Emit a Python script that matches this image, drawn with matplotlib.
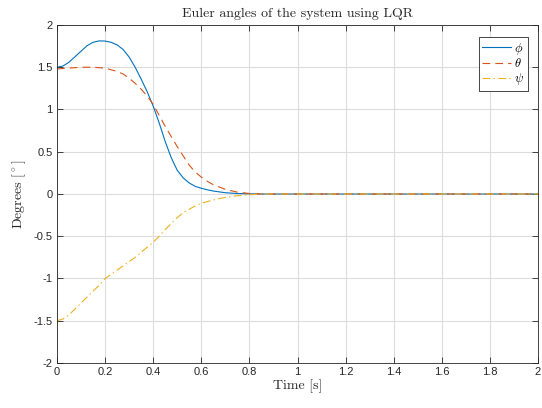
import matplotlib
matplotlib.use("Agg")
import matplotlib.pyplot as plt

plt.rcParams['mathtext.fontset'] = 'cm'
plt.rcParams['font.family'] = ['Liberation Sans', 'DejaVu Sans']

t_phi = [0, 0.025, 0.05, 0.075, 0.1, 0.125, 0.15, 0.175, 0.2, 0.225, 0.25, 0.275,
         0.3, 0.325, 0.35, 0.375, 0.4, 0.425, 0.45, 0.475, 0.5, 0.525, 0.55, 0.575,
         0.6, 0.625, 0.65, 0.7, 0.75, 0.8, 0.85, 2.0]
phi = [1.50, 1.515, 1.56, 1.625, 1.69, 1.755, 1.795, 1.812, 1.81, 1.795, 1.765, 1.71,
       1.62, 1.50, 1.36, 1.21, 1.04, 0.84, 0.62, 0.43, 0.28, 0.19, 0.13, 0.09,
       0.068, 0.05, 0.035, 0.015, 0.006, 0.002, 0.0, 0.0]

t_theta = [0, 0.025, 0.05, 0.1, 0.15, 0.175, 0.2, 0.225, 0.25, 0.275, 0.3, 0.325,
           0.35, 0.375, 0.4, 0.425, 0.45, 0.475, 0.5, 0.525, 0.55, 0.575, 0.6,
           0.625, 0.65, 0.7, 0.75, 0.8, 0.85, 2.0]
theta = [1.48, 1.485, 1.49, 1.50, 1.50, 1.495, 1.49, 1.47, 1.45, 1.42, 1.37, 1.31,
         1.24, 1.16, 1.06, 0.93, 0.80, 0.68, 0.56, 0.45, 0.34, 0.26, 0.20,
         0.15, 0.11, 0.055, 0.022, 0.006, 0.0, 0.0]

t_psi = [0, 0.025, 0.05, 0.075, 0.1, 0.125, 0.15, 0.175, 0.2, 0.225, 0.25, 0.275,
         0.3, 0.325, 0.35, 0.375, 0.4, 0.425, 0.45, 0.475, 0.5, 0.525, 0.55, 0.575,
         0.6, 0.65, 0.7, 0.75, 0.8, 0.85, 2.0]
psi = [-1.50, -1.48, -1.43, -1.36, -1.29, -1.22, -1.15, -1.08, -1.00, -0.95, -0.90, -0.85,
       -0.80, -0.75, -0.69, -0.63, -0.57, -0.50, -0.42, -0.35, -0.28, -0.22, -0.18, -0.14,
       -0.11, -0.07, -0.04, -0.02, -0.01, 0.0, 0.0]

xticks = [0, 0.2, 0.4, 0.6, 0.8, 1, 1.2, 1.4, 1.6, 1.8, 2]
xticklabels = ['0', '0.2', '0.4', '0.6', '0.8', '1', '1.2', '1.4', '1.6', '1.8', '2']
yticks = [-2, -1.5, -1, -0.5, 0, 0.5, 1, 1.5, 2]
yticklabels = ['-2', '-1.5', '-1', '-0.5', '0', '0.5', '1', '1.5', '2']

fig = plt.figure(figsize=(5.42, 4.08), dpi=100)
ax = fig.add_axes([57/542, 1 - 363/408, (538 - 57)/542, (363 - 25)/408])

ax.plot(t_phi, phi, color='#0072BD', lw=0.8, ls='-', label=r'$\phi$')
ax.plot(t_theta, theta, color='#D95319', lw=0.8, ls=(0, (7, 4.5)), label=r'$\theta$')
ax.plot(t_psi, psi, color='#EDB120', lw=0.8, ls=(0, (7, 3, 1.2, 3)), label=r'$\psi$')

ax.set_xlim(0, 2)
ax.set_ylim(-2, 2)
ax.set_xticks(xticks)
ax.set_xticklabels(xticklabels)
ax.set_yticks(yticks)
ax.set_yticklabels(yticklabels)
ax.grid(True, color='#dcdcdc', lw=0.8)
ax.set_axisbelow(True)
ax.tick_params(direction='in', top=True, right=True, length=4, width=0.6,
               labelsize=8, colors='#262626', pad=3)
for s in ax.spines.values():
    s.set_color('#262626')
    s.set_linewidth(0.6)

serif = dict(family='cmr10', size=10, color='#262626')
ax.set_title('Euler angles of the system using LQR', fontdict=serif, pad=6)
ax.set_xlabel('Time [s]', fontdict=serif, labelpad=2)
ax.set_ylabel(r'Degrees [$^\circ$]', fontdict=serif, labelpad=4)

leg = ax.legend(loc='upper right', bbox_to_anchor=(0.979, 0.9645), borderaxespad=0,
                fancybox=False, framealpha=1, edgecolor='#262626', fontsize=9,
                handlelength=2.3, borderpad=0.3, labelspacing=0.05, handletextpad=0.25)
leg.get_frame().set_linewidth(0.6)

fig.savefig('out.png', dpi=100)
